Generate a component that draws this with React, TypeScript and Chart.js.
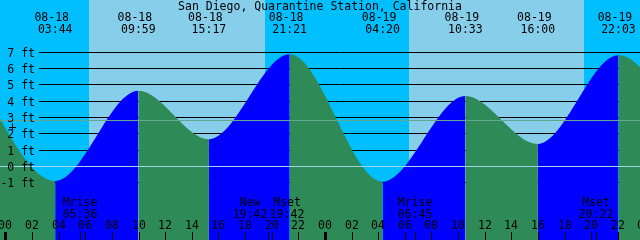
import React, { useEffect, useRef } from "react";
import { Chart, registerables } from "chart.js";

Chart.register(...registerables);

// ---------- data ----------
const title = "San Diego, Quarantine Station, California";
// hours counted from 08-18 00:00
const tideHours = [-3.3, 3.733, 9.983, 15.283, 21.35, 28.333, 34.55, 40.0, 46.05, 53.0];
const tideFeet = [6.9, -0.92, 4.62, 1.64, 6.85, -0.96, 4.3, 1.35, 6.79, -0.8];

const eventDates = ["08-18", "08-18", "08-18", "08-18", "08-19", "08-19", "08-19", "08-19"];
const eventTimes = ["03:44", "09:59", "15:17", "21:21", "04:20", "10:33", "16:00", "22:03"];

const sunriseTimes = ["06:16", "06:17"];
const sunsetTimes = ["19:30", "19:29"];

const moonNames = ["Mrise", "New", "Mset", "Mrise", "Mset"];
const moonTimes = ["05:36", "19:42", "19:42", "06:45", "20:22"];
const moonDay = [0, 0, 0, 1, 1];

const yTicks = [7, 6, 5, 4, 3, 2, 1, 0, -1];
const meanLevel = 2.82;
const hourTicks = Array.from({ length: 25 }, (_, i) => i * 2);

// ---------- layout / style ----------
const X_MIN = -0.413;
const X_MAX = 47.67;
const Y_MIN = -4.54;
const Y_MAX = 10.184;
const moonLabelShift = [0, -18, 19, 0, 0];

const DAY = "#87CEEB";
const NIGHT = "#00BFFF";
const RISE = "#0000FF";
const FALL = "#2E8B57";
const DATUM = "#A4D3EE";
const MEAN = "#62A88E";
const FONT = "11.5px 'DejaVu Sans Mono'";

const toHours = (t: string, day: number) => {
  const [h, m] = t.split(":").map(Number);
  return day * 24 + h + m / 60;
};
const eventHours = eventTimes.map((t, i) => toHours(t, eventDates[i] === "08-18" ? 0 : 1));

const decor = {
  id: "tideDecor",
  beforeDatasetsDraw(chart: any) {
    const { ctx, width, height } = chart;
    const x = chart.scales.x;
    const y = chart.scales.y;
    ctx.save();
    ctx.fillStyle = DAY;
    ctx.fillRect(0, 0, width, height);
    ctx.fillStyle = NIGHT;
    const bounds = [X_MIN - 1];
    sunriseTimes.forEach((r, i) => {
      bounds.push(toHours(r, i), toHours(sunsetTimes[i], i));
    });
    bounds.push(X_MAX + 1);
    for (let i = 0; i < bounds.length; i += 2) {
      const a = Math.round(x.getPixelForValue(bounds[i]));
      const b = Math.round(x.getPixelForValue(bounds[i + 1]));
      ctx.fillRect(a, 0, b - a, height);
    }
    ctx.strokeStyle = "#000";
    ctx.lineWidth = 1;
    ctx.beginPath();
    yTicks.forEach((v) => {
      const py = Math.round(y.getPixelForValue(v)) + 0.5;
      ctx.moveTo(39, py);
      ctx.lineTo(width, py);
    });
    ctx.stroke();
    ctx.restore();
  },
  afterDatasetsDraw(chart: any) {
    const { ctx, width } = chart;
    const x = chart.scales.x;
    const y = chart.scales.y;
    ctx.save();
    // datum and mean lines
    ctx.lineWidth = 1;
    const z = Math.round(y.getPixelForValue(0)) + 0.5;
    ctx.strokeStyle = DATUM;
    ctx.beginPath();
    ctx.moveTo(0, z);
    ctx.lineTo(width, z);
    ctx.stroke();
    const m = Math.round(y.getPixelForValue(meanLevel)) + 0.5;
    ctx.strokeStyle = MEAN;
    ctx.beginPath();
    ctx.moveTo(0, m);
    ctx.lineTo(width, m);
    ctx.stroke();

    ctx.fillStyle = "#000";
    ctx.strokeStyle = "#000";
    ctx.font = FONT;
    // title
    ctx.textAlign = "center";
    ctx.textBaseline = "alphabetic";
    ctx.fillText(title, 320, 9.5);
    // event labels
    eventHours.forEach((h, i) => {
      const px = x.getPixelForValue(h);
      ctx.fillText(eventDates[i], px - 3.5, 21);
      ctx.fillText(eventTimes[i], px, 33);
    });
    // y labels
    ctx.textAlign = "right";
    yTicks.forEach((v) => {
      const py = Math.round(y.getPixelForValue(v));
      ctx.fillText(v + " ft", 35, py + 4.5);
    });
    // small mark near the mean
    ctx.beginPath();
    ctx.moveTo(12.5, 123);
    ctx.lineTo(12.5, 131);
    ctx.moveTo(9, 127.5);
    ctx.lineTo(16, 127.5);
    ctx.stroke();
    // hour ticks and labels
    ctx.textAlign = "center";
    hourTicks.forEach((h) => {
      const px = Math.round(x.getPixelForValue(h));
      const isMidnight = h % 24 === 0;
      ctx.fillRect(isMidnight ? px - 1 : px, 232, isMidnight ? 3 : 1, 8);
      ctx.fillText(String(h % 24).padStart(2, "0"), px, 228.5);
    });
    // moon events
    moonNames.forEach((n, i) => {
      const h = toHours(moonTimes[i], moonDay[i]);
      const px = Math.round(x.getPixelForValue(h));
      ctx.fillRect(px, 232, 1, 8);
      const cx = px + moonLabelShift[i];
      ctx.fillText(n, cx, 206);
      ctx.fillText(moonTimes[i], cx, 218);
    });
    ctx.restore();
  },
};

export default function App() {
  const ref = useRef<HTMLCanvasElement>(null);
  useEffect(() => {
    const chart = new Chart(ref.current as HTMLCanvasElement, {
      type: "line",
      data: {
        datasets: [
          {
            data: tideHours.map((h, i) => ({ x: h, y: tideFeet[i] })),
            fill: "start",
            borderWidth: 0,
            borderColor: "rgba(0,0,0,0)",
            pointRadius: 0,
            cubicInterpolationMode: "monotone",
            backgroundColor: FALL,
            segment: {
              backgroundColor: (c: any) => (c.p1.parsed.y > c.p0.parsed.y ? RISE : FALL),
            },
          } as any,
        ],
      },
      options: {
        animation: false,
        responsive: false,
        events: [],
        layout: { padding: 0 },
        plugins: { legend: { display: false }, tooltip: { enabled: false } },
        scales: {
          x: { type: "linear", min: X_MIN, max: X_MAX, display: false },
          y: { type: "linear", min: Y_MIN, max: Y_MAX, display: false },
        },
      },
      plugins: [decor],
    });
    return () => chart.destroy();
  }, []);
  return (
    <div style={{ position: "fixed", left: 0, top: 0, width: 640, height: 240 }}>
      <canvas ref={ref} width={640} height={240} style={{ display: "block" }} />
    </div>
  );
}
